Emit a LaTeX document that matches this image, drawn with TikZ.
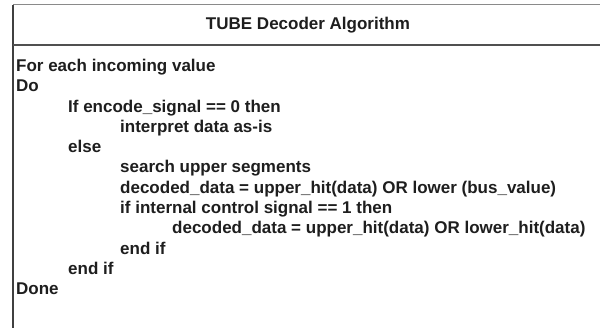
\documentclass[tikz,border=0pt]{standalone}
\usepackage{fontspec}
\setmainfont{Liberation Sans}
\definecolor{txt}{HTML}{1E1E1E}
\definecolor{topline}{HTML}{8A8A8A}
\definecolor{sepline}{HTML}{505050}
\definecolor{sideline}{HTML}{404040}
\tikzset{
  codeline/.style={anchor=base west, inner sep=0pt, text=txt,
    font=\fontsize{17}{20}\selectfont\bfseries},
  titletext/.style={anchor=base, inner sep=0pt, text=txt,
    font=\fontsize{17}{20}\selectfont\bfseries}
}
\begin{document}
\begin{tikzpicture}[x=1pt,y=-1pt]
\clip (0,0) rectangle (600,328);
\fill[white] (0,0) rectangle (600,328);
% box
\draw[topline, line width=1.2pt] (13,4.6) -- (610,4.6);
\draw[sideline, line width=1.1pt] (13,4.6) -- (13,340);
\draw[sepline, line width=1.1pt] (13,45) -- (610,45);
% title
\node[titletext] (title) at (308,30) {TUBE Decoder Algorithm};
% code lines
\def\ls{20.3}
\node[codeline] (l1) at (16,71.5) {For each incoming value};
\node[codeline] (l2) at (16,71.5+1*\ls) {Do};
\node[codeline] (l3) at (68,71.5+2*\ls) {If encode\_signal == 0 then};
\node[codeline] (l4) at (120,71.5+3*\ls) {interpret data as-is};
\node[codeline] (l5) at (68,71.5+4*\ls) {else};
\node[codeline] (l6) at (120,71.5+5*\ls) {search upper segments};
\node[codeline] (l7) at (120,71.5+6*\ls) {decoded\_data = upper\_hit(data) OR lower (bus\_value)};
\node[codeline] (l8) at (120,71.5+7*\ls) {if internal control signal == 1 then};
\node[codeline] (l9) at (172,71.5+8*\ls) {decoded\_data = upper\_hit(data) OR lower\_hit(data)};
\node[codeline] (l10) at (120,71.5+9*\ls) {end if};
\node[codeline] (l11) at (68,71.5+10*\ls) {end if};
\node[codeline] (l12) at (16,71.5+11*\ls) {Done};
\end{tikzpicture}
\end{document}
